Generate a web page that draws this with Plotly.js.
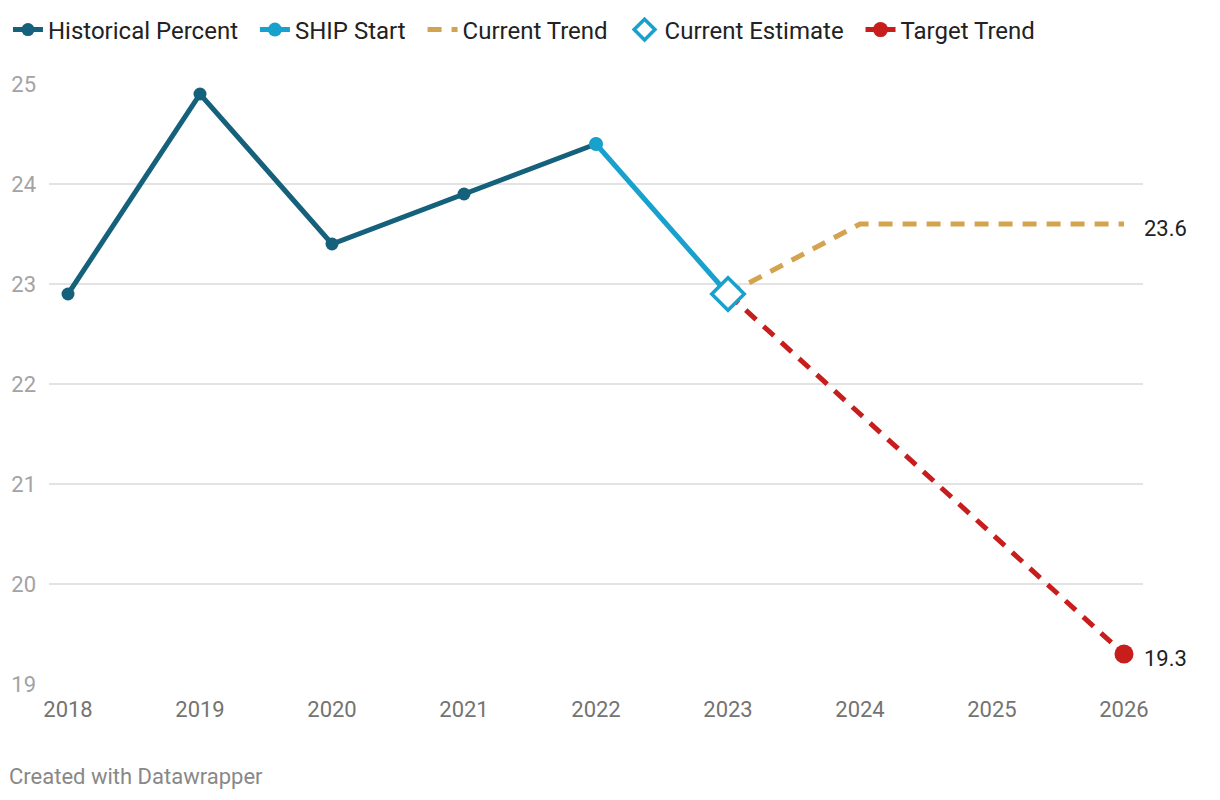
<!DOCTYPE html>
<html>
<head>
<meta charset="utf-8">
<script src="https://cdn.plot.ly/plotly-3.0.1.min.js"></script>
<style>html,body{margin:0;padding:0;background:#fff;}#chart{width:1220px;height:800px;}</style>
</head>
<body>
<div id="chart"></div>
<script>
const histYears = [2018, 2019, 2020, 2021, 2022];
const histValues = [22.9, 24.9, 23.4, 23.9, 24.4];
const shipYears = [2022, 2023];
const shipValues = [24.4, 22.9];
const currentTrendYears = [2023, 2024, 2025, 2026];
const currentTrendValues = [22.9, 23.6, 23.6, 23.6];
const estimateYears = [2023];
const estimateValues = [22.9];
const targetYears = [2023, 2026];
const targetValues = [22.9, 19.3];
const xTicks = [2018, 2019, 2020, 2021, 2022, 2023, 2024, 2025, 2026];
const yTicks = [19, 20, 21, 22, 23, 24, 25];

const cHist = '#15607a', cShip = '#18a1cd', cCur = '#d4a350', cTarget = '#c71e1d';
const pad = '\u00a0\u00a0';

const lastTY = targetYears[targetYears.length - 1];
const lastTV = targetValues[targetValues.length - 1];
const lastCY = currentTrendYears[currentTrendYears.length - 1];
const lastCV = currentTrendValues[currentTrendValues.length - 1];

const traces = [
  {x: histYears, y: histValues, name: 'Historical Percent' + pad, mode: 'lines+markers',
   line: {color: cHist, width: 5}, marker: {color: cHist, size: 13, opacity: 1}},
  {x: shipYears, y: shipValues, name: 'SHIP Start' + pad, mode: 'lines+markers',
   line: {color: cShip, width: 5}, marker: {color: cShip, size: 14, opacity: 1}},
  {x: currentTrendYears, y: currentTrendValues, name: 'Current Trend' + pad, mode: 'lines',
   line: {color: cCur, width: 5, dash: '14px,10px'}},
  {x: targetYears, y: targetValues, name: 'Target Trend', mode: 'lines', showlegend: false,
   line: {color: cTarget, width: 5, dash: '14px,10px'}},
  {x: estimateYears, y: estimateValues, name: 'Current Estimate' + pad, mode: 'markers',
   marker: {symbol: 'diamond', color: '#ffffff', size: 25, opacity: 1, line: {color: cShip, width: 3.5}}},
  {x: [lastTY], y: [lastTV], name: 'Target Trend', mode: 'markers', showlegend: false,
   marker: {color: cTarget, size: 19, opacity: 1}},
  {x: [null], y: [null], name: 'Target Trend', mode: 'lines+markers',
   line: {color: cTarget, width: 5}, marker: {color: cTarget, size: 15, opacity: 1}}
];

const layout = {
  width: 1220, height: 800,
  margin: {l: 49, r: 77, t: 84, b: 116, autoexpand: false},
  paper_bgcolor: '#fff', plot_bgcolor: '#fff',
  font: {family: 'Roboto, sans-serif', color: '#222'},
  showlegend: true,
  legend: {orientation: 'h', x: -0.0375, xanchor: 'left', y: 1.09, yanchor: 'middle',
           font: {size: 24, color: '#222'}, traceorder: 'normal'},
  xaxis: {range: [2017.856, 2026.144], tickvals: xTicks, ticktext: xTicks.map(String),
          showgrid: false, zeroline: false, showline: false, ticks: '', automargin: false,
          tickfont: {size: 22, color: '#737373'}, ticklabelstandoff: 10, fixedrange: true},
  yaxis: {range: [19, 25], tickvals: yTicks, ticktext: yTicks.map(String), automargin: false,
          showgrid: true, gridcolor: '#e3e3e3', gridwidth: 1.5, zeroline: false, showline: false,
          ticks: '', tickfont: {size: 22, color: '#a3a3a3'}, ticklabelstandoff: 12, fixedrange: true},
  annotations: [
    {x: lastCY, y: lastCV, text: String(lastCV), xref: 'x', yref: 'y',
     xanchor: 'left', yanchor: 'middle', xshift: 18, yshift: -4, showarrow: false, font: {size: 22, color: '#222'}},
    {x: lastTY, y: lastTV, text: String(lastTV), xref: 'x', yref: 'y',
     xanchor: 'left', yanchor: 'middle', xshift: 18, yshift: -4, showarrow: false, font: {size: 22, color: '#222'}},
    {x: 0, y: 0, xref: 'paper', yref: 'paper', text: 'Created with Datawrapper',
     xanchor: 'left', yanchor: 'middle', xshift: -42, yshift: -92, showarrow: false,
     font: {size: 22, color: '#888'}}
  ]
};

Plotly.newPlot('chart', traces, layout, {displayModeBar: false, staticPlot: true});
</script>
</body>
</html>
